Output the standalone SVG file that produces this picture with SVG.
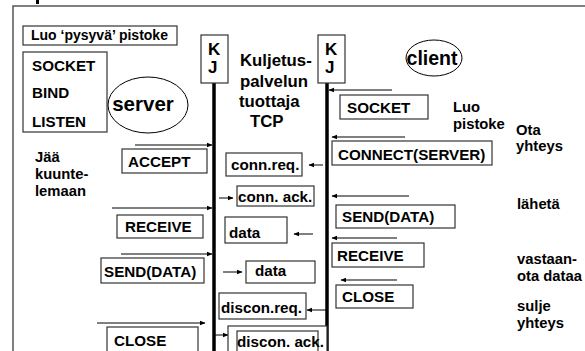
<svg xmlns="http://www.w3.org/2000/svg" width="585" height="351" viewBox="0 0 585 351">
<defs>
<marker id="ah" markerWidth="6" markerHeight="6" refX="5" refY="3" orient="auto" markerUnits="userSpaceOnUse">
<path d="M0,0.8 L5.5,3 L0,5.2 Z" fill="#000"/>
</marker>
<style>
text{font-family:"Liberation Sans",Arial,sans-serif;font-weight:bold;fill:#000}
.t{font-size:15.2px}
.s{font-size:14.8px}
.big{font-size:19.5px}
.box{fill:#fff;stroke:#333;stroke-width:1.2}
.life{stroke:#000;stroke-width:3.5}
.arr{stroke:#000;stroke-width:1;fill:none;marker-end:url(#ah)}
.frame{stroke:#555;stroke-width:1.5;fill:none}
</style>
</defs>
<rect width="585" height="351" fill="#fff"/>
<g id="frame">
<path class="frame" d="M13,351 L13,6 L585,6"/>
<rect x="36" y="0" width="3" height="4" fill="#000"/>
</g>
<g id="lifelines">
<line class="life" x1="214" y1="83" x2="214" y2="351"/>
<line class="life" x1="327" y1="83" x2="327" y2="351"/>
</g>
<g id="connectors">
<line class="arr" x1="135" y1="145" x2="212" y2="145"/>
<line class="arr" x1="112" y1="208" x2="212" y2="208"/>
<line class="arr" x1="121" y1="254" x2="212" y2="254"/>
<line class="arr" x1="97" y1="323" x2="205" y2="323"/>
<line class="arr" x1="392" y1="90" x2="329" y2="90"/>
<line class="arr" x1="405" y1="137" x2="332" y2="137"/>
<line class="arr" x1="409" y1="196" x2="332" y2="196"/>
<line class="arr" x1="397" y1="238" x2="332" y2="238"/>
<line class="arr" x1="397" y1="280" x2="341" y2="280"/>
<line class="arr" x1="323" y1="165" x2="309" y2="165"/>
<line class="arr" x1="219" y1="198" x2="233" y2="198"/>
<line class="arr" x1="313" y1="234" x2="294" y2="234"/>
<line class="arr" x1="223" y1="272" x2="242" y2="272"/>
<line class="arr" x1="326" y1="310" x2="307" y2="310"/>
<line class="arr" x1="215" y1="335" x2="228" y2="335"/>
</g>
<g id="luo-pysyva">
<rect class="box" x="23" y="26" width="154" height="19"/>
<text x="31" y="40" style="font-size:14px">Luo ‘pysyvä’ pistoke</text>
</g>
<g id="server-calls">
<rect class="box" x="23" y="52" width="84" height="80"/>
<text class="t" x="32" y="71">SOCKET</text>
<text class="t" x="32" y="98">BIND</text>
<text class="t" x="32" y="127">LISTEN</text>
</g>
<g id="server">
<ellipse cx="148" cy="105" rx="40" ry="28" fill="#fff" stroke="#000" stroke-width="1"/>
<text x="143" y="111" text-anchor="middle" style="font-size:20.5px">server</text>
</g>
<g id="jaa-kuuntelemaan">
<text class="s" x="35" y="162">Jää</text>
<text class="s" x="35" y="179">kuunte-</text>
<text class="s" x="35" y="196">lemaan</text>
</g>
<g id="kj-server">
<rect class="box" x="201" y="35" width="27" height="48"/>
<text x="208" y="55" style="font-size:17px">K</text>
<text x="208" y="73" style="font-size:17px">J</text>
</g>
<g id="kj-client">
<rect class="box" x="318" y="35" width="27" height="48"/>
<text x="325" y="55" style="font-size:17px">K</text>
<text x="325" y="73" style="font-size:17px">J</text>
</g>
<g id="tcp">
<text x="240" y="66" style="font-size:16.8px">Kuljetus-</text>
<text x="240" y="87" style="font-size:16.8px">palvelun</text>
<text x="239" y="107" style="font-size:16.8px">tuottaja</text>
<text x="250" y="127" style="font-size:16.8px">TCP</text>
</g>
<g id="client">
<ellipse cx="434" cy="58" rx="28" ry="18" fill="#fff" stroke="#000" stroke-width="1"/>
<text x="432" y="65" text-anchor="middle" class="big">client</text>
</g>
<g id="accept">
<rect class="box" x="122" y="149" width="85" height="24"/>
<text class="t" x="128" y="167">ACCEPT</text>
</g>
<g id="receive-server">
<rect class="box" x="117" y="215" width="86" height="23"/>
<text class="t" x="125" y="232">RECEIVE</text>
</g>
<g id="send-server">
<rect class="box" x="101" y="258" width="103" height="25"/>
<text class="t" x="104" y="277">SEND(DATA)</text>
</g>
<g id="close-server">
<rect class="box" x="107" y="327" width="91" height="30"/>
<text class="t" x="114" y="346">CLOSE</text>
</g>
<g id="socket-client">
<rect class="box" x="340" y="95" width="88" height="24"/>
<text class="t" x="347" y="113">SOCKET</text>
</g>
<g id="luo-pistoke">
<text class="s" x="453" y="112">Luo</text>
<text class="s" x="453" y="129">pistoke</text>
</g>
<g id="ota-yhteys">
<text class="s" x="516" y="135">Ota</text>
<text class="s" x="516" y="151">yhteys</text>
</g>
<g id="connect">
<rect class="box" x="332" y="141" width="160" height="24"/>
<text class="t" x="338" y="160">CONNECT(SERVER)</text>
</g>
<g id="send-client">
<rect class="box" x="336" y="205" width="119" height="23"/>
<text class="t" x="342" y="222">SEND(DATA)</text>
</g>
<g id="receive-client">
<rect class="box" x="332" y="243" width="92" height="24"/>
<text class="t" x="337" y="261">RECEIVE</text>
</g>
<g id="close-client">
<rect class="box" x="336" y="285" width="77" height="23"/>
<text class="t" x="342" y="302">CLOSE</text>
</g>
<g id="lahetä">
<text class="s" x="517" y="209">lähetä</text>
</g>
<g id="vastaanota">
<text class="s" x="517" y="264">vastaan-</text>
<text class="s" x="517" y="281">ota dataa</text>
</g>
<g id="sulje">
<text class="s" x="517" y="311">sulje</text>
<text class="s" x="517" y="328">yhteys</text>
</g>
<g id="conn-req">
<rect class="box" x="226" y="153" width="76" height="23"/>
<text class="t" x="231" y="170">conn.req.</text>
</g>
<g id="conn-ack">
<rect class="box" x="237" y="186" width="77" height="20"/>
<text class="t" x="238" y="202">conn. ack.</text>
</g>
<g id="data1">
<rect class="box" x="225" y="217" width="62" height="26"/>
<text class="t" x="229" y="238">data</text>
</g>
<g id="data2">
<rect class="box" x="246" y="261" width="69" height="22"/>
<text class="t" x="255" y="276">data</text>
</g>
<g id="discon-req">
<rect class="box" x="219" y="293" width="87" height="26"/>
<text class="t" x="221" y="313">discon.req.</text>
</g>
<g id="discon-ack">
<rect class="box" x="228" y="326" width="99" height="30"/>
<rect class="box" x="237" y="331" width="81" height="25"/>
<text class="t" x="237" y="347">discon. ack.</text>
</g>
</svg>
